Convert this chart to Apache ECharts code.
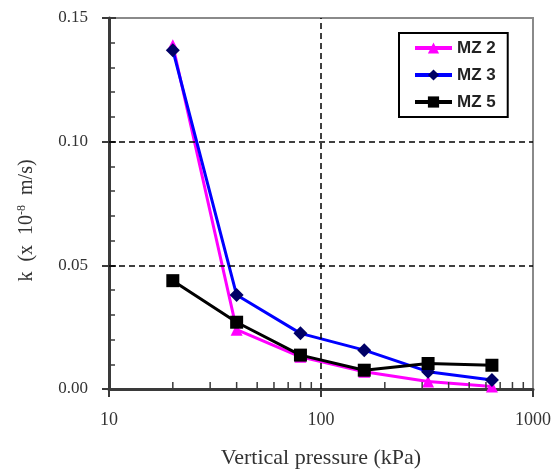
<!DOCTYPE html>
<html>
<head>
<meta charset="utf-8">
<script src="https://cdn.jsdelivr.net/npm/echarts@6/dist/echarts.min.js"></script>
<style>
  html, body { margin: 0; padding: 0; background: #fff; }
  #chart { width: 554px; height: 475px; }
</style>
</head>
<body>
<div id="chart"></div>
<script>
// Vertical pressure steps (kPa)
const pressure = [20, 40, 80, 160, 320, 640];
// Permeability k (x 10^-8 m/s) for each sample
const mz2 = [0.139, 0.024, 0.013, 0.007, 0.003, 0.001];
const mz3 = [0.137, 0.038, 0.0225, 0.0157, 0.007, 0.0036];
const mz5 = [0.0438, 0.027, 0.0137, 0.0076, 0.0103, 0.0096];
// Axis tick values
const xMinorTicks = [20, 30, 40, 50, 60, 70, 80, 90, 200, 300, 400, 500, 600, 700, 800, 900];
const yGridLines = [0.05, 0.10];
const xGridLines = [100];

const serif = 'Liberation Serif';
const axisDark = '#3a3a3a';
const textGray = '#333';

const chart = echarts.init(document.getElementById('chart'), null, { renderer: 'canvas' });

const pairs = (ys) => pressure.map((p, i) => [p, ys[i]]);

chart.setOption({
  animation: false,
  backgroundColor: '#fff',
  grid: {
    left: 109, right: 21, top: 18, bottom: 86,
    show: true, borderColor: '#8a8a8a', borderWidth: 2, backgroundColor: '#fff'
  },
  legend: {
    data: ['MZ 2', 'MZ 3', 'MZ 5'],
    orient: 'vertical',
    left: 399, top: 33,
    borderColor: '#000', borderWidth: 2,
    padding: [6, 12, 6, 14],
    itemGap: 9, itemWidth: 37, itemHeight: 14,
    backgroundColor: '#fff',
    lineStyle: { width: 4 },
    textStyle: {
      fontFamily: 'Liberation Sans Narrow, Liberation Sans',
      fontWeight: 'bold', fontSize: 17, lineHeight: 18, color: '#222'
    }
  },
  xAxis: [{
    type: 'log', logBase: 10, min: 10, max: 1000,
    position: 'bottom',
    name: 'Vertical pressure (kPa)', nameLocation: 'middle', nameGap: 58,
    nameTextStyle: { fontFamily: serif, fontSize: 22, color: textGray },
    axisLine: { show: true, lineStyle: { color: axisDark, width: 3 } },
    axisTick: { show: true, inside: false, length: 8, lineStyle: { color: axisDark, width: 2 } },
    axisLabel: { fontFamily: serif, fontSize: 18, color: textGray, margin: 22, formatter: (v) => String(v) },
    splitLine: { show: false }
  }],
  yAxis: [{
    type: 'value', min: 0, max: 0.15, interval: 0.05,
    position: 'left',
    name: 'k  (x  10{sup|-8}  m/s)', nameLocation: 'middle', nameGap: 71,
    nameTextStyle: {
      fontFamily: serif, fontSize: 20, color: textGray,
      padding: [0, 34, 0, 0],
      rich: { sup: { fontFamily: serif, fontSize: 12, color: textGray, verticalAlign: 'bottom', padding: [0, 0, 10, 0] } }
    },
    axisLine: { show: true, lineStyle: { color: axisDark, width: 3 } },
    axisTick: { show: true, inside: false, length: 7, lineStyle: { color: axisDark, width: 2 } },
    axisLabel: { fontFamily: serif, fontSize: 17, color: textGray, margin: 21, formatter: (v) => v.toFixed(2) },
    splitLine: { show: false }
  }, {
    // inner tick marks for the value axis
    type: 'value', min: 0, max: 0.15, interval: 0.05,
    position: 'left',
    axisLine: { show: false },
    axisTick: { show: true, inside: true, length: 7, lineStyle: { color: axisDark, width: 2 } },
    minorTick: { show: true, splitNumber: 5, length: 6, lineStyle: { color: axisDark, width: 1.5 } },
    axisLabel: { show: false },
    splitLine: { show: false }
  }],
  series: [
    {
      // minor ticks along the log axis, placed through the axis scale
      type: 'custom',
      silent: true,
      clip: false,
      z: 5,
      data: xMinorTicks.map((v) => [v, 0]),
      renderItem: (params, api) => {
        const p = api.coord([api.value(0), 0]);
        return {
          type: 'line',
          shape: { x1: p[0], y1: p[1], x2: p[0], y2: p[1] - 7 },
          style: { stroke: axisDark, lineWidth: 1.5 }
        };
      }
    },
    {
      name: 'MZ 2', type: 'line', data: pairs(mz2), z: 3,
      symbol: 'triangle', symbolSize: 12,
      lineStyle: { color: '#ff00ff', width: 3 },
      itemStyle: { color: '#ff00ff' },
      markLine: {
        silent: true, symbol: 'none', label: { show: false },
        lineStyle: { color: '#000', type: [6, 4], width: 1.5 },
        data: yGridLines.map((v) => ({ yAxis: v })).concat(xGridLines.map((v) => ({ xAxis: v })))
      }
    },
    {
      name: 'MZ 3', type: 'line', data: pairs(mz3), z: 4,
      symbol: 'diamond', symbolSize: 14,
      lineStyle: { color: '#0000ff', width: 3 },
      itemStyle: { color: '#000066' }
    },
    {
      name: 'MZ 5', type: 'line', data: pairs(mz5), z: 5,
      symbol: 'rect', symbolSize: 13,
      lineStyle: { color: '#000', width: 3 },
      itemStyle: { color: '#000' }
    }
  ]
});
</script>
</body>
</html>
